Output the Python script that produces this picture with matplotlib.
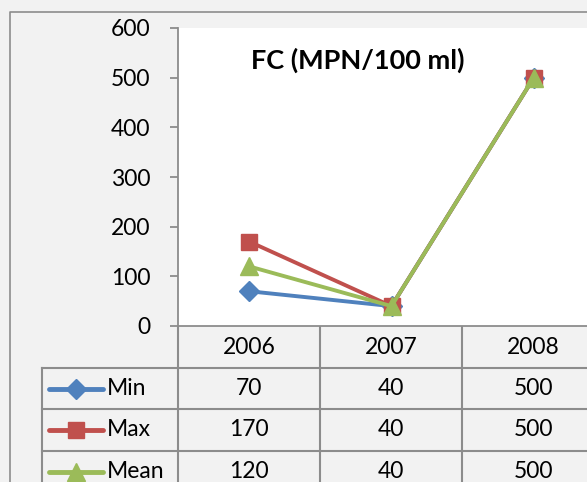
import matplotlib
matplotlib.use('Agg')
import matplotlib.pyplot as plt
import numpy as np

plt.rcParams['font.family'] = ['Lato', 'DejaVu Sans']

years  = ['2006', '2007', '2008']
names  = ['Min', 'Max', 'Mean']
values = {'Min': [70, 40, 500], 'Max': [170, 40, 500], 'Mean': [120, 40, 500]}
colors = {'Min': '#4f81bd', 'Max': '#c0504d', 'Mean': '#9bbb59'}
marks  = {'Min': 'D', 'Max': 's', 'Mean': '^'}
sizes  = {'Min': 10, 'Max': 12, 'Mean': 13}
yticks = [0, 100, 200, 300, 400, 500, 600]

W, H = 587, 482
grey = '#8c8c8c'
fs = 16.5
fig = plt.figure(figsize=(W/100., H/100.), dpi=100, facecolor='#f2f2f2')

# background axes in pixel units, for the frame and the data table
bg = fig.add_axes([0, 0, 1, 1])
bg.set_xlim(0, W); bg.set_ylim(H, 0)
bg.axis('off')

# plot area
x0, x1, ytop, ybot = 178, 605, 28, 326
ax = fig.add_axes([x0/W, (H-ybot)/H, (x1-x0)/W, (ybot-ytop)/H])
ax.set_facecolor('white')
xs = np.arange(len(years))
for n in names:
    ax.plot(xs, values[n], color=colors[n], lw=2.8, marker=marks[n],
            ms=sizes[n], mec=colors[n], mfc=colors[n], clip_on=False)
ax.set_xlim(-0.5, len(years)-0.5)
ax.set_ylim(0, 600)
ax.set_yticks(yticks)
ax.set_xticks([])
for s in ['top', 'right']:
    ax.spines[s].set_visible(False)
for s in ['left', 'bottom']:
    ax.spines[s].set_color(grey)
    ax.spines[s].set_linewidth(1.3)
ax.tick_params(axis='y', length=6, width=1.3, color=grey, labelsize=fs, pad=14)
ax.text(0.42, 0.893, 'FC (MPN/100 ml)', transform=ax.transAxes, ha='center',
        va='center', fontsize=19.5, fontweight='bold')

# outer chart border
bg.plot([10, 10, W], [H, 12, 12], color=grey, lw=1.2)

# data table
col_edges = [178, 320, 462, 605]
row_edges = [326, 368, 409, 451, 492]
col_c = [(col_edges[i]+col_edges[i+1])/2. for i in range(len(years))]
row_c = [(row_edges[i]+row_edges[i+1])/2. for i in range(len(row_edges)-1)]
for y in row_edges[1:4]:
    bg.plot([42, W], [y, y], color=grey, lw=1.5)
bg.plot([42, 42], [row_edges[1], H], color=grey, lw=1.5)
for x in col_edges[:3]:
    bg.plot([x, x], [row_edges[0], H], color=grey, lw=1.5)

for i, yr in enumerate(years):
    bg.text(col_c[i], row_c[0], yr, ha='center', va='center', fontsize=fs)
for r, n in enumerate(names):
    yc = row_c[r+1]
    bg.plot([49, 103], [yc, yc], color=colors[n], lw=3.5, solid_capstyle='round')
    bg.plot([76], [yc], marker=marks[n], ms=sizes[n], color=colors[n])
    bg.text(107, yc, n, ha='left', va='center', fontsize=fs)
    for i in range(len(years)):
        bg.text(col_c[i], yc, str(values[n][i]), ha='center', va='center', fontsize=fs)

fig.savefig('out.png', dpi=100, facecolor=fig.get_facecolor())
